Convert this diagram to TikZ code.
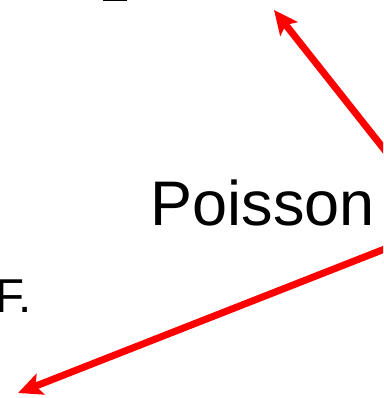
\documentclass[tikz,border=0pt]{standalone}
\usepackage{fontspec}
\setmainfont{Liberation Sans}
\usetikzlibrary{arrows.meta}
\begin{document}
\begin{tikzpicture}[x=1pt,y=-1pt,
  redarrow/.style={draw=red, line width=7pt, -{Stealth[length=24pt,width=22pt,inset=5pt]}},
  lbl/.style={inner sep=0pt, anchor=base west, text=black}]
\useasboundingbox (0,0) rectangle (383,398);
\clip (0,0) rectangle (383,398);
\fill[white] (0,0) rectangle (383,398);
% cropped underscore fragment at the top
\fill[black] (103,0) rectangle (127,1.4);
% labels
\node[lbl] (poisson) at (150.5,225) {\fontsize{63pt}{70pt}\selectfont Poisson};
\node[lbl] (ftext) at (-5,312) {\fontsize{47.5pt}{54pt}\selectfont F.};
% arrows
\coordinate (a1s) at (395,163);
\coordinate (a1e) at (274,10);
\coordinate (a2s) at (400,243);
\coordinate (a2e) at (18,393);
\draw[redarrow] (a1s) -- (a1e);
\draw[redarrow] (a2s) -- (a2e);
\end{tikzpicture}
\end{document}
